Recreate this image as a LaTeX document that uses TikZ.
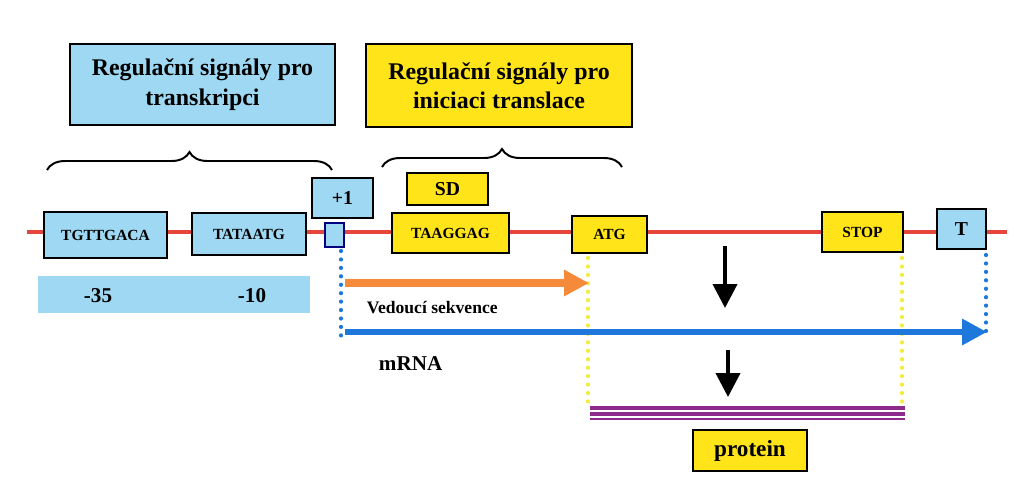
\documentclass[tikz,border=0pt]{standalone}
\usepackage{fontspec}
\setmainfont{Liberation Serif}
\usetikzlibrary{arrows.meta, decorations.pathreplacing}
\usepackage{xcolor}
\definecolor{sigblue}{HTML}{9ED8F2}
\definecolor{sigyellow}{HTML}{FFE41A}
\definecolor{dnared}{HTML}{E5453A}
\definecolor{leadorange}{HTML}{F58A3A}
\definecolor{mrnablue}{HTML}{1E78DC}
\definecolor{dotyellow}{HTML}{F2EC3C}
\definecolor{protpurple}{HTML}{8E2C8E}

\begin{document}
\begin{tikzpicture}[
  x=0.025cm, y=-0.025cm,
  every node/.style={font=\bfseries},
  box/.style={
    rectangle, draw, line width=0.9pt,
    align=center, inner sep=2pt
  },
  bluebox/.style={box, fill=sigblue},
  yellowbox/.style={box, fill=sigyellow},
  title/.style={font=\fontsize{17}{21}\selectfont\bfseries},
  seq/.style={font=\fontsize{11}{12}\selectfont\bfseries},
  mid/.style={font=\fontsize{14}{15}\selectfont\bfseries},
  dna/.style={draw=dnared, line width=3pt},
  dotblue/.style={draw=mrnablue, line width=3pt, line cap=round, dash pattern=on 0pt off 6pt},
  dotyellow/.style={draw=dotyellow, line width=3pt, line cap=round, dash pattern=on 0pt off 6pt},
  bracket/.style={decorate, line width=1.4pt,
    decoration={brace, amplitude=0.45cm}},
  bigarrow/.style={line width=5pt, -{Triangle[length=0.62cm, width=0.62cm]}},
  downarrow/.style={line width=2.8pt, -{Triangle[length=0.6cm, width=0.6cm]}}
]
\useasboundingbox (0,0) rectangle (1023,496);

% ---- DNA strand ----
\coordinate (dnaL) at (27,232);
\coordinate (dnaR) at (1007,232);
\draw[dna] (dnaL) -- (dnaR);

% ---- Top signal boxes ----
\node[bluebox, title, minimum width=6.625cm, minimum height=2.025cm]
  (transcr) at (202.5,84.5) {Regulační signály pro\\transkripci};
\node[yellowbox, title, minimum width=6.65cm, minimum height=2.075cm]
  (transl) at (499,85.5) {Regulační signály pro\\iniciaci translace};

% ---- Braces ----
\coordinate (br1a) at (47,170);
\coordinate (br1b) at (332,170);
\coordinate (br2a) at (382,167);
\coordinate (br2b) at (622,167);
\draw[bracket] (br1a) -- (br1b);
\draw[bracket] (br2a) -- (br2b);

% ---- Promoter ----
\node[bluebox, seq, minimum width=3.075cm, minimum height=1.15cm]
  (box35) at (105.5,235) {TGTTGACA};
\node[bluebox, seq, minimum width=2.85cm, minimum height=1.05cm]
  (box10) at (249,234) {TATAATG};
\node[fill=sigblue, minimum width=6.8cm, minimum height=0.925cm]
  (band) at (174,294.5) {};
\node[mid, font=\fontsize{15}{16}\selectfont\bfseries] (m35) at (98,296) {-35};
\node[mid, font=\fontsize{15}{16}\selectfont\bfseries] (m10) at (252,296) {-10};

% ---- Start of transcription ----
\node[bluebox, mid, minimum width=1.525cm, minimum height=1.0cm]
  (plus1) at (342.5,198) {+1};
\node[bluebox, draw=blue!50!black, minimum width=0.475cm, minimum height=0.6cm, inner sep=0pt]
  (tss) at (334.5,235) {};

% ---- Translation signals ----
\node[yellowbox, mid, minimum width=2.025cm, minimum height=0.8cm]
  (sd) at (447.5,189) {SD};
\node[yellowbox, seq, minimum width=2.925cm, minimum height=1.0cm]
  (taaggag) at (450.5,233) {TAAGGAG};
\node[yellowbox, seq, minimum width=1.875cm, minimum height=0.925cm]
  (atg) at (609.5,234.5) {ATG};
\node[yellowbox, seq, minimum width=2.025cm, minimum height=1.0cm]
  (stop) at (862.5,232) {STOP};
\node[bluebox, mid, minimum width=1.225cm, minimum height=1.0cm]
  (term) at (961.5,229) {T};

% ---- Dotted guide lines ----
\coordinate (tssTop) at (341,251);
\coordinate (tssBot) at (341,340);
\coordinate (termTop) at (986,255);
\coordinate (termBot) at (986,334);
\coordinate (atgTop) at (588,258);
\coordinate (atgBot) at (588,402);
\coordinate (stopTop) at (902,258);
\coordinate (stopBot) at (902,402);
\draw[dotblue] (tssTop) -- (tssBot);
\draw[dotblue] (termTop) -- (termBot);
\draw[dotyellow] (atgTop) -- (atgBot);
\draw[dotyellow] (stopTop) -- (stopBot);

% ---- Leader and mRNA ----
\coordinate (leadL) at (345,283);
\coordinate (leadR) at (589,283);
\draw[bigarrow, draw=leadorange, fill=leadorange] (leadL) -- (leadR);
\node[font=\fontsize{12.5}{13}\selectfont\bfseries, anchor=west] (leader) at (362,308) {Vedoucí sekvence};

\coordinate (mrnaL) at (345,332);
\coordinate (mrnaR) at (987,332);
\draw[bigarrow, line width=4.5pt, draw=mrnablue, fill=mrnablue] (mrnaL) -- (mrnaR);
\node[font=\fontsize{15}{16}\selectfont\bfseries, anchor=west] (mrna) at (374,364) {mRNA};

% ---- Down arrows ----
\coordinate (down1a) at (725,246);
\coordinate (down1b) at (725,308);
\coordinate (down2a) at (728,350);
\coordinate (down2b) at (728,397);
\draw[downarrow] (down1a) -- (down1b);
\draw[downarrow] (down2a) -- (down2b);

% ---- Protein ----
\coordinate (protL) at (590,0);
\coordinate (protR) at (905,0);
\foreach \yy/\ww in {408/2.2pt, 414/2.6pt, 419/1.8pt}
  \draw[protpurple, line width=\ww] (protL |- 0,\yy) -- (protR |- 0,\yy);
\node[yellowbox, font=\fontsize{16.5}{17}\selectfont\bfseries, minimum width=2.85cm, minimum height=1.025cm]
  (protein) at (750,450.5) {protein};

\end{tikzpicture}
\end{document}
